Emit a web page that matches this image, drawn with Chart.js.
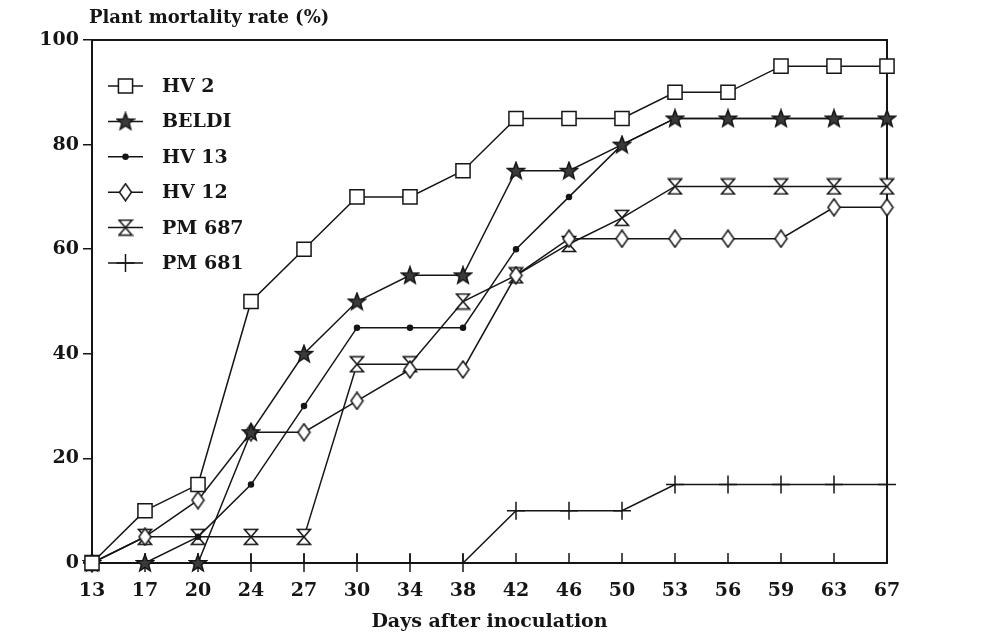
<!DOCTYPE html>
<html>
<head>
<meta charset="utf-8">
<script src="https://cdn.jsdelivr.net/npm/chart.js@4.4.0/dist/chart.umd.min.js"></script>
<style>
  html, body { margin: 0; padding: 0; background: #fff; }
</style>
</head>
<body>
<canvas id="chart" width="992" height="635"></canvas>
<script>
// days after inoculation
const days = ['13', '17', '20', '24', '27', '30', '34', '38', '42', '46', '50', '53', '56', '59', '63', '67'];
const yTicks = [0, 20, 40, 60, 80, 100];

// plant mortality rate (%) per variety
const hv2   = [0, 10, 15, 50, 60, 70, 70, 75, 85, 85, 85, 90, 90, 95, 95, 95];
const beldi = [0, 0, 0, 25, 40, 50, 55, 55, 75, 75, 80, 85, 85, 85, 85, 85];
const hv13  = [0, 0, 5, 15, 30, 45, 45, 45, 60, 70, 80, 85, 85, 85, 85, 85];
const hv12  = [0, 5, 12, 25, 25, 31, 37, 37, 55, 62, 62, 62, 62, 62, 68, 68];
const pm687 = [0, 5, 5, 5, 5, 38, 38, 50, 55, 61, 66, 72, 72, 72, 72, 72];
const pm681 = [0, 0, 0, 0, 0, 0, 0, 0, 10, 10, 10, 15, 15, 15, 15, 15];

const INK = '#151515';
const BOLD = 'DejaVu Serif';

function marker(w, h, draw) {
  const c = document.createElement('canvas');
  c.width = w; c.height = h;
  const g = c.getContext('2d');
  g.strokeStyle = INK;
  g.lineWidth = 1.5;
  draw(g, w, h);
  return c;
}

const starImg = marker(20, 20, (g) => {
  g.beginPath();
  for (let i = 0; i < 10; i++) {
    const r = i % 2 ? 3.8 : 9;
    const a = -Math.PI / 2 + i * Math.PI / 5;
    const px = 10 + r * Math.cos(a), py = 10.5 + r * Math.sin(a);
    i ? g.lineTo(px, py) : g.moveTo(px, py);
  }
  g.closePath();
  g.fillStyle = '#3a3a3a';
  g.fill();
  g.stroke();
});

const diamondImg = marker(15, 19, (g) => {
  g.beginPath();
  g.moveTo(7.5, 1); g.lineTo(13.5, 9.5); g.lineTo(7.5, 18); g.lineTo(1.5, 9.5);
  g.closePath();
  g.fillStyle = '#fff';
  g.fill();
  g.stroke();
});

const hourglassImg = marker(16, 18, (g) => {
  g.beginPath();
  g.moveTo(1.5, 1.5); g.lineTo(14.5, 1.5); g.lineTo(8, 9);
  g.lineTo(14.5, 16.5); g.lineTo(1.5, 16.5); g.lineTo(8, 9);
  g.closePath();
  g.fillStyle = '#fff';
  g.fill();
  g.stroke();
});

function series(label, data, style, radius, fill) {
  return {
    label: label,
    data: data,
    borderColor: INK,
    borderWidth: 1.5,
    tension: 0,
    clip: false,
    pointStyle: style,
    pointRadius: radius,
    pointHoverRadius: radius,
    pointBorderColor: INK,
    pointBorderWidth: 1.5,
    pointBackgroundColor: fill
  };
}

// legend drawn in the top-left of the plot, like the scan
const innerLegend = {
  id: 'innerLegend',
  afterDatasetsDraw(chart) {
    const ctx = chart.ctx;
    const x0 = 108, x1 = 143, tx = 162;
    const top = 86, step = 35.4;
    ctx.save();
    chart.data.datasets.forEach((ds, i) => {
      const y = top + i * step;
      ctx.strokeStyle = INK;
      ctx.lineWidth = 1.5;
      ctx.beginPath();
      ctx.moveTo(x0, y); ctx.lineTo(x1, y);
      ctx.stroke();
      ctx.fillStyle = ds.pointBackgroundColor;
      Chart.helpers.drawPoint(ctx, {
        pointStyle: ds.pointStyle, radius: ds.pointRadius, rotation: 0, borderWidth: 1.5
      }, (x0 + x1) / 2, y);
      ctx.fillStyle = INK;
      ctx.font = 'bold 19px "' + BOLD + '"';
      ctx.textBaseline = 'middle';
      ctx.fillText(ds.label, tx, y + 1);
    });
    ctx.restore();
  }
};

// frame, inward x ticks and titles
const frame = {
  id: 'frame',
  beforeDatasetsDraw(chart) {
    const { ctx, chartArea: a, scales } = chart;
    ctx.save();
    ctx.strokeStyle = INK;
    ctx.lineWidth = 2;
    ctx.beginPath();
    ctx.moveTo(a.left, a.top); ctx.lineTo(a.right, a.top); ctx.lineTo(a.right, a.bottom);
    ctx.stroke();
    ctx.lineWidth = 1.5;
    scales.x.ticks.forEach((t, i) => {
      const x = scales.x.getPixelForTick(i);
      ctx.beginPath();
      ctx.moveTo(x, a.bottom); ctx.lineTo(x, a.bottom - 10);
      ctx.stroke();
    });
    ctx.fillStyle = INK;
    ctx.font = 'bold 18px "' + BOLD + '"';
    ctx.textBaseline = 'middle';
    ctx.fillText('Plant mortality rate (%)', 89, 18);
    ctx.restore();
  }
};

new Chart(document.getElementById('chart'), {
  type: 'line',
  data: {
    labels: days,
    datasets: [
      series('HV 2', hv2, 'rect', 10, '#fff'),
      series('BELDI', beldi, starImg, 9, '#3a3a3a'),
      series('HV 13', hv13, 'circle', 2.5, INK),
      series('HV 12', hv12, diamondImg, 9, '#fff'),
      series('PM 687', pm687, hourglassImg, 9, '#fff'),
      series('PM 681', pm681, 'cross', 9, INK)
    ]
  },
  options: {
    responsive: false,
    animation: false,
    layout: { padding: { left: 0, right: 105, top: 40, bottom: 0 } },
    plugins: {
      legend: { display: false },
      tooltip: { enabled: false }
    },
    scales: {
      x: {
        offset: false,
        grid: { display: false },
        border: { display: true, color: INK, width: 2 },
        ticks: {
          color: INK, padding: 9, maxRotation: 0, autoSkip: false,
          font: { family: BOLD, weight: 'bold', size: 19 }
        },
        title: {
          display: true, text: 'Days after inoculation', color: INK,
          font: { family: BOLD, weight: 'bold', size: 19 },
          padding: { top: 10, bottom: 2 }
        },
        afterFit(s) { s.height = 72; }
      },
      y: {
        min: 0, max: 100,
        afterBuildTicks(s) { s.ticks = yTicks.map(v => ({ value: v })); },
        grid: { drawOnChartArea: false, drawTicks: true, tickLength: 9, color: INK, lineWidth: 1.5 },
        border: { display: true, color: INK, width: 2 },
        ticks: {
          color: INK, padding: 4,
          font: { family: BOLD, weight: 'bold', size: 19 }
        },
        afterFit(s) { s.width = 92; }
      }
    }
  },
  plugins: [frame, innerLegend]
});
</script>
</body>
</html>
